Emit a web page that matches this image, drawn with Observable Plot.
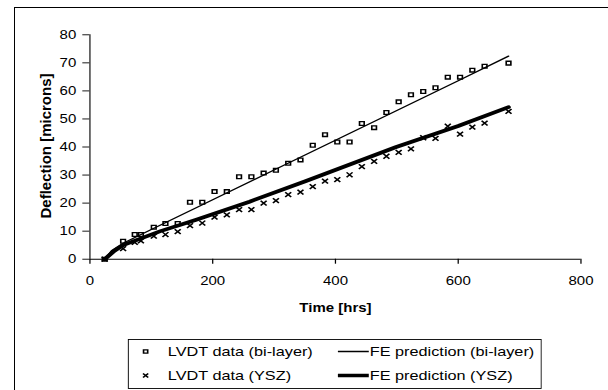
<!DOCTYPE html>
<html><head><meta charset="utf-8">
<script src="https://cdn.jsdelivr.net/npm/d3@7"></script>
<script src="https://cdn.jsdelivr.net/npm/@observablehq/plot@0.6"></script>
<style>
html,body{margin:0;padding:0;background:#fff;}
#page{position:relative;width:608px;height:390px;overflow:hidden;font-family:"Liberation Sans",Arial,sans-serif;background:#fff;}
#frame{position:absolute;left:13.5px;top:6.5px;width:700px;height:500px;border:1.5px solid #000;box-sizing:border-box;}
#inner{position:absolute;left:0;top:0;width:486px;height:390px;transform:scaleX(1.251);transform-origin:0 0;}
#chart{position:absolute;left:0;top:0;}
#legend{position:absolute;left:102.3px;top:338.5px;}
#ylabel{position:absolute;left:44.5px;top:146px;transform:translate(-50%,-50%) rotate(-90deg);white-space:nowrap;font-weight:bold;font-size:15px;color:#000;}
</style></head>
<body>
<div id="page">
  <div id="frame"></div>
  <div id="inner"><div id="chart"></div><div id="legend"></div></div>
  <div id="ylabel"></div>
</div>
<script>
const xTicks = [0, 200, 400, 600, 800];
const yTicks = [0, 10, 20, 30, 40, 50, 60, 70, 80];
const xLabel = "Time [hrs]";
const yLabel = "Deflection [microns]";
const legendLabels = ["LVDT data (bi-layer)", "FE prediction (bi-layer)", "LVDT data (YSZ)", "FE prediction (YSZ)"];

const lvdtTime = [24,54,73,83,104,123,143,163,183,203,223,243,263,283,303,323,343,363,383,403,423,443,463,483,503,523,543,563,583,603,623,643,682];
const lvdtBilayer = [0,6.4,8.8,8.8,11.4,12.7,12.7,20.3,20.3,24.1,24.1,29.4,29.4,30.7,31.7,34.2,35.4,40.6,44.4,41.8,41.8,48.4,46.9,52.3,56.1,58.6,59.8,61.1,64.9,64.9,67.4,68.8,69.9];
const lvdtYSZ = [0,3.8,6,6.5,8.2,8.8,9.8,12,12.9,15,15.8,17.7,17.7,20,20.9,23,23.9,25.9,27.8,28.4,30.1,33,34.9,36.7,38.1,39.3,43.3,43.1,47.4,44.6,47.1,48.5,52.7];

const feBiTime = [24,35,54,100,200,300,400,500,600,682];
const feBiDefl = [0,3,5.7,10.6,21.2,31.8,42.4,53.0,63.6,72.4];
const feYszTime = [24,40,54,115,172,260,351,499,600,682];
const feYszDefl = [0,3,5,10,14,20.5,27.8,40,47.5,54.2];

const bilayer = lvdtTime.map((t, i) => ({t, d: lvdtBilayer[i]}));
const ysz = lvdtTime.map((t, i) => ({t, d: lvdtYSZ[i]}));
const feBi = feBiTime.map((t, i) => ({t, d: feBiDefl[i]}));
const feYsz = feYszTime.map((t, i) => ({t, d: feYszDefl[i]}));

const chart = Plot.plot({
  width: 486, height: 335,
  marginLeft: 71.4, marginRight: 22.1, marginTop: 34.3, marginBottom: 76.3,
  style: {fontFamily: "'Liberation Sans', Arial, sans-serif", fontSize: "12px", color: "#000", background: "transparent", overflow: "visible"},
  x: {domain: [0, 800]},
  y: {domain: [0, 80]},
  marks: [
    Plot.ruleX([0], {stroke: "#000", strokeWidth: 0.9}),
    Plot.ruleY([0], {stroke: "#000", strokeWidth: 1}),
    Plot.axisY({ticks: yTicks, tickSize: 5.6, tickPadding: 5.3, label: null, strokeWidth: 0.9}),
    Plot.axisX({ticks: xTicks, tickSize: 5, tickPadding: 12.3, label: null}),
    Plot.text([xLabel], {text: d => d, frameAnchor: "bottom", dy: 53, fontWeight: "bold", fontSize: 12}),
    Plot.line(feBi, {x: "t", y: "d", stroke: "#000", strokeWidth: 1.3}),
    Plot.line(feYsz, {x: "t", y: "d", stroke: "#000", strokeWidth: 3.7}),
    Plot.dot(bilayer, {x: "t", y: "d", symbol: "square", r: 2.1, stroke: "#000", strokeWidth: 1.3, fill: "none"}),
    Plot.dot(ysz, {x: "t", y: "d", symbol: "times", r: 2.3, stroke: "#000", strokeWidth: 1.4})
  ]
});
document.getElementById("chart").appendChild(chart);

document.getElementById("ylabel").textContent = yLabel;

// legend
const lw = 330.2, lh = 50;
const svg = d3.select("#legend").append("svg").attr("width", lw + 1).attr("height", lh + 1)
  .style("font-family", "'Liberation Sans', Arial, sans-serif").style("font-size", "13px");
svg.append("rect").attr("x", 0.5).attr("y", 0.5).attr("width", lw).attr("height", lh - 1)
  .attr("fill", "#fff").attr("stroke", "#000").attr("stroke-width", 0.9);
const rows = [12.5, 36.5];
svg.append("path").attr("transform", `translate(14.4,${rows[0]})`)
  .attr("d", d3.symbol(d3.symbolSquare, 11)()).attr("fill", "none").attr("stroke", "#000").attr("stroke-width", 1.3);
svg.append("path").attr("transform", `translate(14.4,${rows[1]})`)
  .attr("d", d3.symbol(d3.symbolTimes, 13)()).attr("fill", "none").attr("stroke", "#000").attr("stroke-width", 1.4);
svg.append("line").attr("x1", 168.1).attr("x2", 192.8).attr("y1", rows[0]).attr("y2", rows[0]).attr("stroke", "#000").attr("stroke-width", 1.3);
svg.append("line").attr("x1", 168.1).attr("x2", 192.8).attr("y1", rows[1]).attr("y2", rows[1]).attr("stroke", "#000").attr("stroke-width", 3.7);
const tpos = [[32.2, rows[0], 0], [193.6, rows[0], 1], [32.2, rows[1], 2], [193.6, rows[1], 3]];
tpos.forEach(([x, y, i]) => {
  svg.append("text").attr("x", x).attr("y", y).attr("dy", "0.35em").attr("fill", "#000").text(legendLabels[i]);
});
</script>
</body></html>
